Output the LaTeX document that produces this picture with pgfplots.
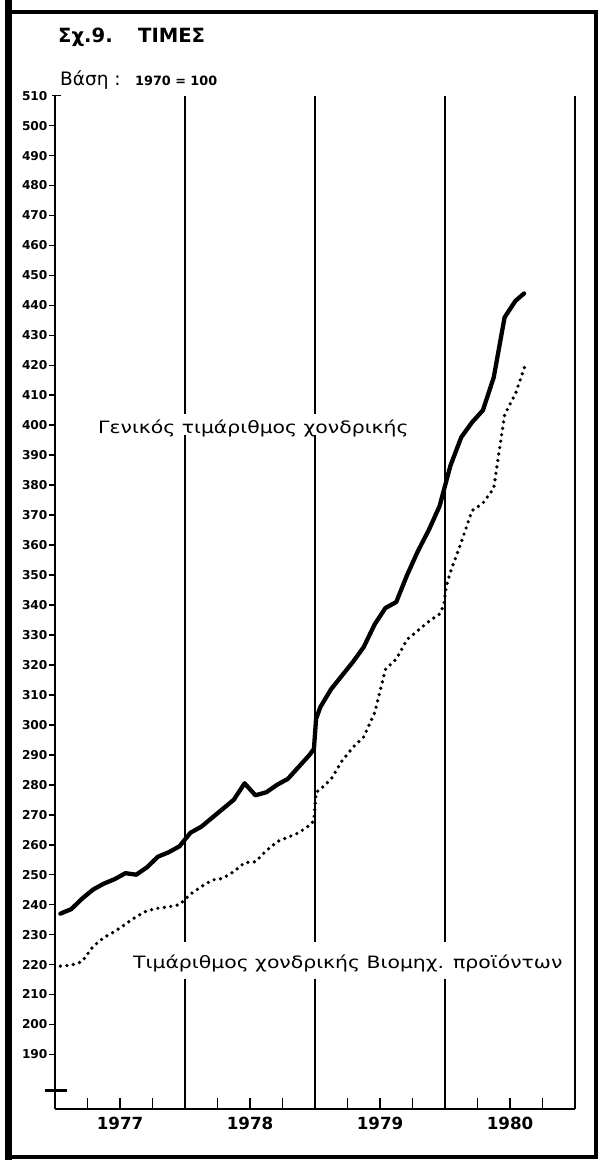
\documentclass[border=0pt]{standalone}
\usepackage{fontspec}
\setmainfont{DejaVu Sans}
\usepackage{pgfplots}
\pgfplotsset{compat=1.18}
\begin{document}
\begin{tikzpicture}
\useasboundingbox (0,0) rectangle (601pt,1160pt);
\fill[white] (0,0) rectangle (601pt,1160pt);
\draw[line width=4pt] (8pt,3pt) rectangle (596pt,1148pt);
\draw[line width=7pt] (8pt,0pt) -- (8pt,1160pt);
\begin{axis}[
  at={(55pt,51pt)}, anchor=south west,
  scale only axis, width=520pt, height=1013.3pt,
  xmin=0, xmax=48, ymin=171.8, ymax=510,
  clip=false,
  axis lines*=left,
  axis line style={line width=1.8pt},
  ytick={190,200,...,510},
  xtick={6,18,30,42},
  xticklabels={1977,1978,1979,1980},
  tick style={draw=none},
  /pgf/number format/assume math mode=true,
  yticklabel style={font=\fontsize{12.2}{13}\selectfont\bfseries, xshift=-4pt},
  xticklabel style={font=\fontsize{16.7}{17}\selectfont\bfseries, yshift=-5pt},
]
% year separators with gaps for labels
\draw[line width=1.8pt] (axis cs:12,510) -- (axis cs:12,403.8);
\draw[line width=1.8pt] (axis cs:12,396.7) -- (axis cs:12,227.5);
\draw[line width=1.8pt] (axis cs:12,215.2) -- (axis cs:12,171.8);
\draw[line width=1.8pt] (axis cs:24,510) -- (axis cs:24,403.8);
\draw[line width=1.8pt] (axis cs:24,396.7) -- (axis cs:24,227.5);
\draw[line width=1.8pt] (axis cs:24,215.2) -- (axis cs:24,171.8);
\draw[line width=1.8pt] (axis cs:36,510) -- (axis cs:36,227.5);
\draw[line width=1.8pt] (axis cs:36,215.2) -- (axis cs:36,171.8);
\draw[line width=1.8pt] (axis cs:48,510) -- (axis cs:48,171.8);
% quarter ticks
\pgfplotsinvokeforeach{3,6,9,15,18,21,27,30,33,39,42,45}{
  \draw[line width=1.6pt] (axis cs:#1,171.8) -- ([yshift=11pt]axis cs:#1,171.8);
}
% y ticks
\pgfplotsinvokeforeach{190,200,210,220,230,240,250,260,270,280,290,300,310,320,330,340,350,360,370,380,390,400,410,420,430,440,450,460,470,480,490,500}{
  \draw[line width=1.6pt] (axis cs:0,#1) -- ([xshift=-6pt]axis cs:0,#1);
}
\draw[line width=1.6pt] ([xshift=-3pt]axis cs:0,510) -- ([xshift=6pt]axis cs:0,510);
% axis break mark
\draw[line width=3.5pt] ([xshift=-10pt]axis cs:0,177.9) -- ([xshift=12pt]axis cs:0,177.9);

% Solid: general wholesale price index
\addplot[black, line width=4.3pt, line join=round, line cap=round] coordinates {
(0.5,237) (1.5,238.5) (2.5,242) (3.5,245) (4.5,247) (5.5,248.5) (6.5,250.5)
(7.5,250) (8.5,252.5) (9.5,256) (10.5,257.5) (11.5,259.5)
(12.5,264) (13.5,266) (14.5,269) (15.5,272) (16.5,275) (17.5,280.5)
(18.5,276.5) (19.5,277.5) (20.5,280) (21.5,282) (22.5,286) (23.5,290)
(23.9,292) (24.1,302)
(24.5,306) (25.5,312) (26.5,316.5) (27.5,321) (28.5,326) (29.5,333.5)
(30.5,339) (31.5,341) (32.5,350) (33.5,358) (34.5,365) (35.5,373)
(36.5,386.5) (37.5,396) (38.5,401) (39.5,405) (40.5,416) (41.5,436)
(42.5,441.5) (43.3,444)
};
% Dotted: wholesale price index of industrial products
\addplot[black, line width=3.7pt, line cap=round, dash pattern=on 0pt off 6.5pt] coordinates {
(0.5,219.5) (1.5,219.8) (2.5,221) (3.5,226) (4.5,229) (5.5,231) (6.5,233.5)
(7.5,236) (8.5,238) (9.5,238.8) (10.5,239.3) (11.5,240)
(12.5,243.5) (13.5,246) (14.5,248.2) (15.5,248.8) (16.5,251) (17.5,254)
(18.5,254.3) (19.5,258) (20.5,261) (21.5,262.5) (22.5,264) (23.5,266.5)
(23.9,268) (24.1,277.5)
(24.5,278.5) (25.5,282) (26.5,288) (27.5,292.5) (28.5,296) (29.5,304)
(30.5,318.5) (31.5,322) (32.5,328.5) (33.5,331.5) (34.5,334.5) (35.5,337)
(35.9,340) (36.1,346)
(36.5,351) (37.5,361) (38.5,371.5) (39.5,374) (40.5,379) (41.5,403.5)
(42.5,410.5) (43.5,421)
};
\end{axis}
% titles
\node[anchor=base west, inner sep=0, font=\fontsize{19.6}{20}\selectfont\bfseries] at (58pt,1117.3pt) {Σχ.9.};
\node[anchor=base west, inner sep=0, font=\fontsize{19.6}{20}\selectfont\bfseries] at (138pt,1117.3pt) {ΤΙΜΕΣ};
\node[anchor=base west, inner sep=0, font=\fontsize{18.5}{19}\selectfont] at (60pt,1074pt) {Βάση :};
\node[anchor=base west, inner sep=0, font=\fontsize{12.8}{13}\selectfont\bfseries] at (135pt,1074pt) {1970 = 100};
% series labels
\node[anchor=base west, inner sep=0, font=\fontsize{17}{18}\selectfont] at (98pt,726pt) {\scalebox{1.2}[1]{Γενικός τιμάριθμος χονδρικής}};
\node[anchor=base west, inner sep=0, font=\fontsize{17}{18}\selectfont] at (133pt,191pt) {\scalebox{1.2}[1]{Τιμάριθμος χονδρικής Βιομηχ.}};
\node[anchor=base west, inner sep=0, font=\fontsize{17}{18}\selectfont] at (453pt,191pt) {\scalebox{1.2}[1]{προϊόντων}};
\end{tikzpicture}
\end{document}
